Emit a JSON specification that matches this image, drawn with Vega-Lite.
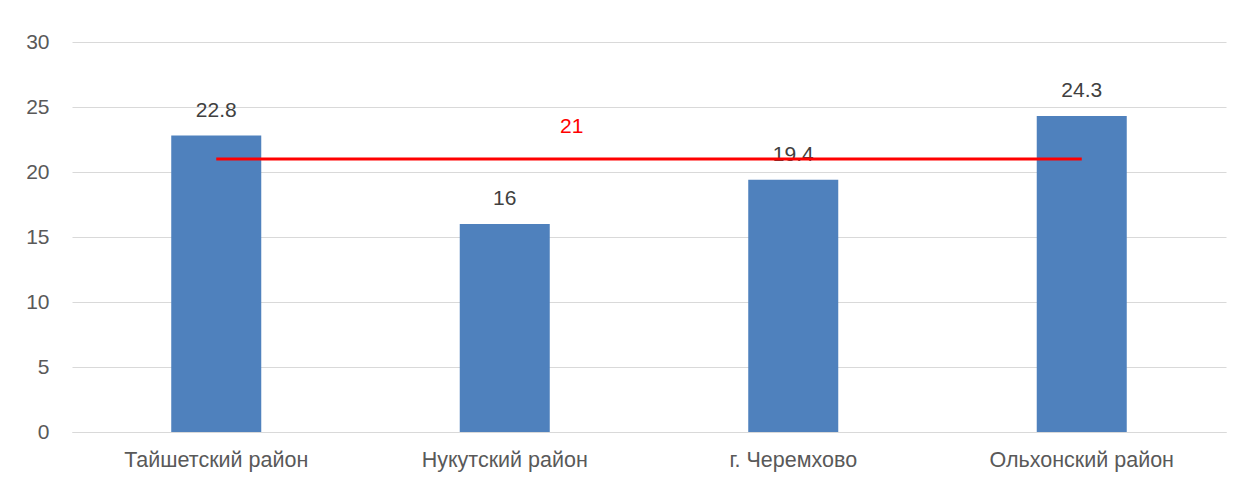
{
  "$schema": "https://vega.github.io/schema/vega-lite/v6.json",
  "width": 1154,
  "height": 390,
  "autosize": {"type": "none"},
  "padding": {"left": 72, "top": 42, "right": 17, "bottom": 52},
  "background": "white",
  "config": {
    "view": {"stroke": null},
    "font": "Liberation Sans",
    "axis": {"labelFont": "Liberation Sans", "labelColor": "#595959", "gridColor": "#D9D9D9", "gridWidth": 1, "domain": false, "ticks": false}
  },
  "data": {
    "values": [
      {"district": "Тайшетский район", "value": 22.8, "avg": 21},
      {"district": "Нукутский район", "value": 16, "avg": 21},
      {"district": "г. Черемхово", "value": 19.4, "avg": 21},
      {"district": "Ольхонский район", "value": 24.3, "avg": 21}
    ]
  },
  "encoding": {
    "x": {
      "field": "district",
      "type": "nominal",
      "sort": null,
      "scale": {"paddingInner": 0.688, "paddingOuter": 0.344},
      "axis": {"title": null, "labelAngle": 0, "labelFontSize": 21.5, "labelLimit": 400, "labelPadding": 17, "grid": false, "domain": true, "domainColor": "#D9D9D9", "domainWidth": 1}
    }
  },
  "layer": [
    {
      "mark": {"type": "bar", "color": "#4F81BD"},
      "encoding": {
        "y": {"field": "value", "type": "quantitative", "scale": {"domain": [0, 30]},
          "axis": {"title": null, "values": [0, 5, 10, 15, 20, 25, 30], "labelFontSize": 21, "labelPadding": 23}}
      }
    },
    {
      "mark": {"type": "text", "baseline": "middle", "dy": -25, "fontSize": 21, "color": "#404040"},
      "encoding": {
        "y": {"field": "value", "type": "quantitative"},
        "text": {"field": "value", "type": "quantitative"}
      }
    },
    {
      "mark": {"type": "line", "color": "#FF0000", "strokeWidth": 3},
      "encoding": {
        "y": {"field": "avg", "type": "quantitative"}
      }
    },
    {
      "transform": [{"filter": "datum.district === 'Нукутский район'"}],
      "mark": {"type": "text", "baseline": "middle", "dx": 67, "dy": -32, "fontSize": 21, "color": "#FF0000"},
      "encoding": {
        "y": {"field": "avg", "type": "quantitative"},
        "text": {"field": "avg", "type": "quantitative"}
      }
    }
  ]
}
